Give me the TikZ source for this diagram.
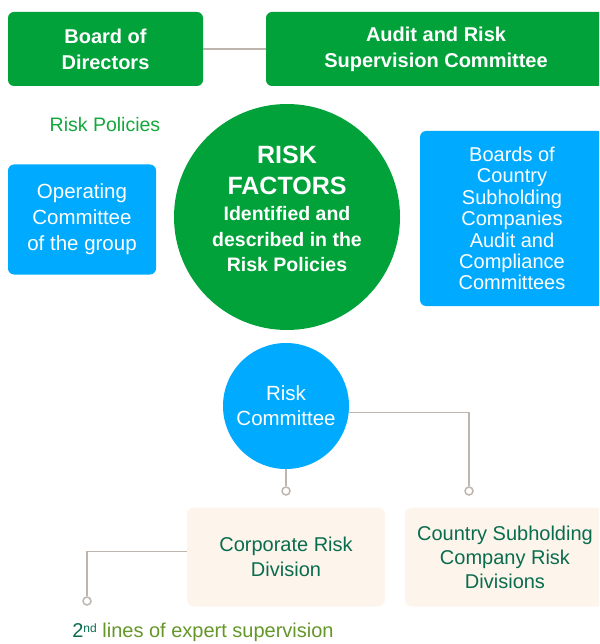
\documentclass[tikz,border=0pt]{standalone}
\usepackage{fontspec}
\setmainfont{Liberation Sans}
\definecolor{boardGreen}{RGB}{0, 162, 57}
\definecolor{policyGreen}{RGB}{20, 168, 60}
\definecolor{skyBlue}{RGB}{0, 170, 255}
\definecolor{peach}{RGB}{253, 244, 236}
\definecolor{deepGreen}{RGB}{10, 108, 78}
\definecolor{oliveGreen}{RGB}{100, 150, 40}
\definecolor{lineGray}{RGB}{190, 181, 175}
\usetikzlibrary{shapes.geometric}

\begin{document}
\begin{tikzpicture}[
    x=1pt, y=-1pt,
    greenbox/.style={
      rectangle, fill=boardGreen, rounded corners=6pt, inner sep=0pt,
      minimum height=74pt, text=white, align=center,
      font=\bfseries\fontsize{20}{26}\selectfont
    },
    bluebox/.style={
      rectangle, fill=skyBlue, rounded corners=6pt, inner sep=0pt,
      text=white, align=center, font=\fontsize{20.5}{26}\selectfont
    },
    divbox/.style={
      rectangle, fill=peach, rounded corners=7pt, inner sep=0pt,
      minimum height=99pt, text=deepGreen, align=center,
      font=\fontsize{20}{25}\selectfont
    },
    link/.style={draw=lineGray, line width=1.5pt},
    enddot/.style={circle, draw=lineGray, fill=white, line width=1.5pt,
      inner sep=0pt, minimum size=8pt}
  ]
    \useasboundingbox (0,0) rectangle (599,644);
    \clip (0,0) rectangle (599,644);

    % Top level
    \node[greenbox, minimum width=195pt] (board) at (105.5,49) {Board of\\Directors};
    \node[greenbox, minimum width=340pt] (audit) at (436,49) {Audit and Risk\\Supervision Committee};
    \draw[link] (board) -- (audit);

    % Risk factors
    \node[font=\fontsize{19.5}{24}\selectfont, text=policyGreen] (policies) at (105,125) {Risk Policies};
    \node[circle, fill=boardGreen, minimum size=226pt, inner sep=0pt] (factors) at (287,217) {};
    \node[text=white, align=center, font=\bfseries\fontsize{19.5}{25.5}\selectfont]
      (factorstext) at (287,209)
      {{\fontsize{25}{31}\selectfont RISK}\\[5.5pt]{\fontsize{25}{31}\selectfont FACTORS}\\[1pt]Identified and\\described in the\\Risk Policies};
    \node[bluebox, minimum width=148pt, minimum height=110pt] (operating) at (82,219.5)
      {Operating\\Committee\\of the group};
    \node[bluebox, minimum width=184pt, minimum height=175pt,
      font=\fontsize{20}{21.4}\selectfont] (boards) at (512,218.5)
      {Boards of\\Country\\Subholding\\Companies\\Audit and\\Compliance\\Committees};

    % Risk committee
    \node[circle, fill=skyBlue, minimum size=126pt, inner sep=0pt, text=white,
      align=center, font=\fontsize{20.5}{25}\selectfont] (riskcom) at (286,406)
      {Risk\\Committee};
    \node[enddot] (corpdot) at (286,491) {};
    \node[enddot] (countrydot) at (469,491) {};
    \draw[link] (riskcom.south) -- (corpdot.north);
    \draw[link] (riskcom.-6.4) -| (countrydot.north);

    % Risk divisions
    \node[divbox, minimum width=198pt] (corporate) at (286,557) {Corporate Risk\\Division};
    \node[divbox, minimum width=200pt, font=\fontsize{20}{24}\selectfont] (country) at (505,557)
      {Country Subholding\\Company Risk\\Divisions};
    \node[enddot] (lowdot) at (87,601) {};
    \draw[link] ([yshift=5.5pt]corporate.west) -| (lowdot.north);

    % Second line
    \node[font=\fontsize{20}{24}\selectfont, text=oliveGreen] (secondline) at (203,632.5)
      {\textcolor{deepGreen}{2{\fontsize{12}{12}\selectfont\raisebox{5pt}{nd}}} lines of expert supervision};
  \end{tikzpicture}
\end{document}
